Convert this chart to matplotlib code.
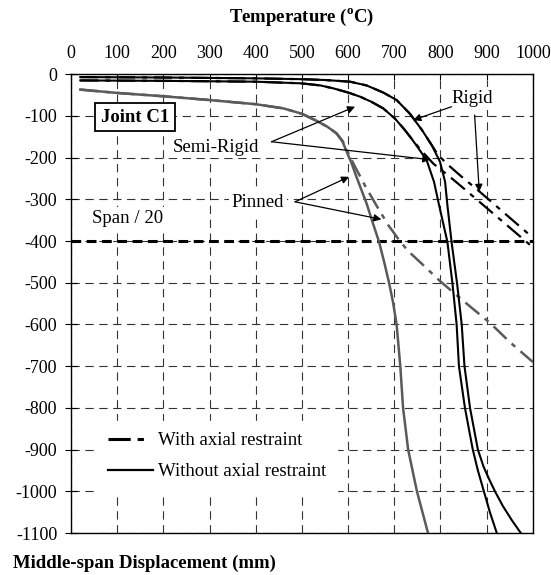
import matplotlib
matplotlib.use("Agg")
import matplotlib.pyplot as plt
from matplotlib.lines import Line2D

plt.rcParams['font.family'] = ['Liberation Serif', 'DejaVu Serif']
plt.rcParams['mathtext.fontset'] = 'custom'
plt.rcParams['mathtext.rm'] = 'Liberation Serif'
plt.rcParams['mathtext.bf'] = 'Liberation Serif:bold'
plt.rcParams['axes.unicode_minus'] = False
plt.rcParams['lines.scale_dashes'] = False

# rigid joint, no axial restraint
rigid_temp = [20, 200, 400, 500, 550, 604, 640, 676, 705, 734, 760, 781, 799, 810, 815,
              824, 836, 846, 852, 864, 881, 893, 905, 918, 935, 955, 974]
rigid_disp = [-7, -8, -10, -12, -14, -18, -27, -44, -62, -95, -134, -170, -210, -258, -314,
              -402, -502, -600, -700, -800, -900, -940, -970, -1000, -1035, -1070, -1100]

# semi-rigid joint, no axial restraint
semi_temp = [20, 200, 400, 499, 540, 568, 600, 626, 650, 676, 701, 720, 737, 755, 770, 786,
             797, 815, 826, 835, 840, 853, 870, 881, 894, 907, 922]
semi_disp = [-15, -16, -18, -22, -27, -34, -44, -54, -66, -82, -106, -130, -154, -182, -206,
             -258, -314, -402, -502, -600, -700, -800, -900, -950, -1000, -1050, -1100]

# pinned joint, no axial restraint
pinned_temp = [20, 100, 200, 300, 400, 460, 500, 532, 555, 575, 588, 597, 608, 618, 629,
               640, 653, 667, 678, 689, 697, 705, 713, 719, 730, 749, 773]
pinned_disp = [-37, -45, -53, -62, -72, -82, -95, -112, -126, -142, -162, -186, -215, -246, -278,
               -310, -355, -402, -450, -502, -545, -600, -700, -800, -900, -1000, -1100]

# with axial restraint
rigid_r_temp = [20, 200, 400, 500, 550, 604, 640, 676, 705, 734, 760, 781, 795, 817, 846,
                881, 1000]
rigid_r_disp = [-7, -8, -10, -12, -14, -18, -27, -44, -62, -95, -134, -170, -194, -218, -246,
                -278, -392]

semi_r_temp = [20, 200, 400, 499, 540, 568, 600, 626, 650, 676, 701, 720, 737, 760, 785,
               816, 842, 1000]
semi_r_disp = [-15, -16, -18, -22, -27, -34, -44, -54, -66, -82, -106, -130, -154, -185, -215,
               -242, -266, -415]

pinned_r_temp = [20, 100, 200, 300, 400, 460, 500, 532, 555, 575, 588, 597, 615, 636, 662,
                 687, 712, 730, 763, 799, 835, 874, 907, 950, 1000]
pinned_r_disp = [-37, -45, -53, -62, -72, -82, -95, -112, -126, -142, -160, -182, -222, -266,
                 -316, -362, -400, -424, -458, -496, -530, -566, -596, -642, -690]

span_limit = -400  # span / 20

x_ticks = list(range(0, 1001, 100))
y_ticks = list(range(0, -1101, -100))

gray = '#5a5a5a'
dashdot = (0, (13, 5, 3.5, 5))

fig = plt.figure(figsize=(5.51, 5.75), dpi=100)
ax = fig.add_axes([0.129, 0.073, 0.838, 0.798])

ax.grid(True, ls=(0, (6, 4)), color='#333333', lw=0.8, zorder=0)
ax.set_axisbelow(True)

ax.axhline(span_limit, color='black', lw=2.2, ls=(0, (7, 4)), zorder=2)

ax.plot(pinned_r_temp, pinned_r_disp, color=gray, lw=1.8, ls=dashdot, zorder=3)
ax.plot(pinned_temp, pinned_disp, color=gray, lw=1.8, zorder=3)
ax.plot(rigid_r_temp, rigid_r_disp, color='black', lw=1.6, ls=dashdot, zorder=3)
ax.plot(semi_r_temp, semi_r_disp, color='black', lw=1.6, ls=dashdot, zorder=3)
ax.plot(rigid_temp, rigid_disp, color='black', lw=1.5, zorder=4)
ax.plot(semi_temp, semi_disp, color='black', lw=1.5, zorder=4)

ax.set_xlim(0, 1000)
ax.set_ylim(-1100, 0)
ax.set_xticks(x_ticks)
ax.set_yticks(y_ticks)
ax.set_yticklabels([str(v) for v in y_ticks])
ax.xaxis.tick_top()
ax.tick_params(axis='x', direction='in', length=4, pad=9, labelsize=13)
ax.tick_params(axis='y', direction='inout', length=8, pad=6, labelsize=13)
for s in ax.spines.values():
    s.set_linewidth(1.0)
    s.set_color('black')

# labels and arrows
white = dict(facecolor='white', edgecolor='none', pad=2)
arrow = dict(arrowstyle='-|>', color='black', lw=0.9, mutation_scale=11, shrinkA=0, shrinkB=0)

ax.text(138, -103, 'Joint C1', fontsize=13.5, fontweight='bold', ha='center', va='center',
        bbox=dict(facecolor='white', edgecolor='black', lw=1.3, boxstyle='square,pad=0.3'),
        zorder=6)
ax.text(314, -175, 'Semi-Rigid', fontsize=13.5, ha='center', va='center', bbox=white, zorder=5)
ax.annotate('', xy=(615, -78), xytext=(434, -162), arrowprops=arrow, zorder=6)
ax.annotate('', xy=(778, -205), xytext=(434, -162), arrowprops=arrow, zorder=6)

ax.text(869, -58, 'Rigid', fontsize=13.5, ha='center', va='center', bbox=white, zorder=5)
ax.annotate('', xy=(741, -110), xytext=(824, -78), arrowprops=arrow, zorder=6)
ax.annotate('', xy=(884, -282), xytext=(874, -98), arrowprops=arrow, zorder=6)

ax.text(405, -308, 'Pinned', fontsize=13.5, ha='center', va='center', bbox=white, zorder=5)
ax.annotate('', xy=(602, -246), xytext=(485, -306), arrowprops=arrow, zorder=6)
ax.annotate('', xy=(672, -348), xytext=(485, -306), arrowprops=arrow, zorder=6)

ax.text(122, -346, 'Span / 20', fontsize=13.5, ha='center', va='center', bbox=white, zorder=5)

# legend key: one long dash and one short dash, then blank
handles = [Line2D([], [], color='black', lw=2.2, ls=(0, (16, 5, 4.5, 30))),
           Line2D([], [], color='black', lw=1.6)]
leg = ax.legend(handles, ['With axial restraint', 'Without axial restraint'],
                loc='upper left', bbox_to_anchor=(0.035, 0.265), fontsize=13.5,
                frameon=True, fancybox=False, facecolor='white', edgecolor='white',
                framealpha=1, handlelength=2.4, handletextpad=0.25, labelspacing=0.75,
                borderpad=0.6)
leg.set_zorder(5)

fig.text(0.548, 0.970, r'Temperature ($^{\mathbf{o}}$C)', fontsize=13.5, fontweight='bold',
         ha='center', va='center')
fig.text(0.024, 0.021, 'Middle-span Displacement (mm)', fontsize=13.5, fontweight='bold',
         ha='left', va='center')

fig.savefig('out.png', dpi=100)
